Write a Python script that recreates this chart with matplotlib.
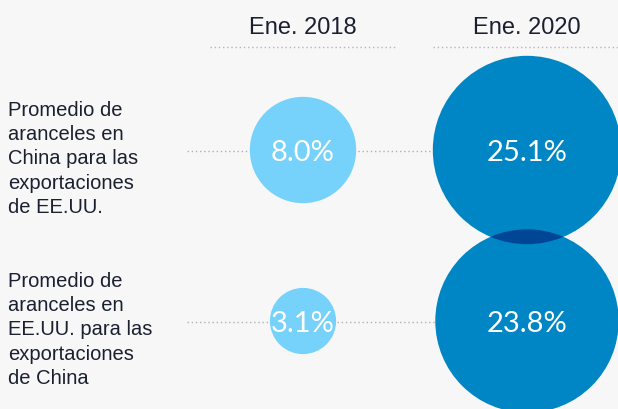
import numpy as np
import matplotlib
matplotlib.use("Agg")
import matplotlib.pyplot as plt
from matplotlib.patches import Circle
from matplotlib.colors import to_rgb

# data
years = ["Ene. 2018", "Ene. 2020"]
rows = ["Promedio de\naranceles en\nChina para las\nexportaciones\nde EE.UU.",
        "Promedio de\naranceles en\nEE.UU. para las\nexportaciones\nde China"]
values = [[8.0, 25.1],   # China -> US exports
          [3.1, 23.8]]   # US -> China exports

colors = ["#76d2fa", "#0086c4"]
bg = "#f7f7f7"
txt = "#1a2030"

plt.rcParams['font.family'] = ['Liberation Sans', 'DejaVu Sans']

fig = plt.figure(figsize=(6.18, 4.10), dpi=100, facecolor=bg)
ax = fig.add_axes([0, 0, 1, 1])
ax.set_facecolor(bg)
ax.set_xlim(0, 618)
ax.set_ylim(410, 0)
ax.set_aspect("equal")
ax.axis("off")

col_x = [303, 527]
row_y = [151, 322]
k = 18.8  # pixels per sqrt(%) -> area proportional

# header text + dotted rules
rules = [(210, 397), (433, 640)]
for j, yr in enumerate(years):
    ax.text(col_x[j], 28, yr, ha="center", va="center", fontsize=17, color=txt)
    ax.plot(rules[j], [48, 48], ls=(0, (1, 2)), lw=1, color="#b5b5b5")

# row labels + dotted guide lines
for i, lab in enumerate(rows):
    ax.text(8, row_y[i] + 8, lab, ha="left", va="center", fontsize=14.5,
            color=txt, linespacing=1.34)
    ax.plot([187, col_x[1] - k * np.sqrt(values[i][1])], [row_y[i] + 1] * 2,
            ls=(0, (1, 2)), lw=1, color="#b0b0b0", zorder=1)

# circles
circ = {}
for i in range(len(rows)):
    for j in range(len(years)):
        r = k * np.sqrt(values[i][j])
        c = Circle((col_x[j], row_y[i]), r, facecolor=colors[j], edgecolor="none", zorder=2)
        ax.add_patch(c)
        circ[(i, j)] = c
        ax.text(col_x[j], row_y[i] + 2, f"{values[i][j]:.1f}%", ha="center", va="center",
                fontsize=21, color="white", zorder=4,
                family=["Lato", "Liberation Sans"], fontweight="normal")

# overlap of the two big circles drawn as a multiply blend
dark = tuple(v * v for v in to_rgb(colors[1]))
ov = Circle((col_x[1], row_y[1]), k * np.sqrt(values[1][1]), facecolor=dark,
            edgecolor="none", zorder=3)
ax.add_patch(ov)
ov.set_clip_path(circ[(0, 1)])

fig.savefig("out.png", dpi=100, facecolor=bg)
